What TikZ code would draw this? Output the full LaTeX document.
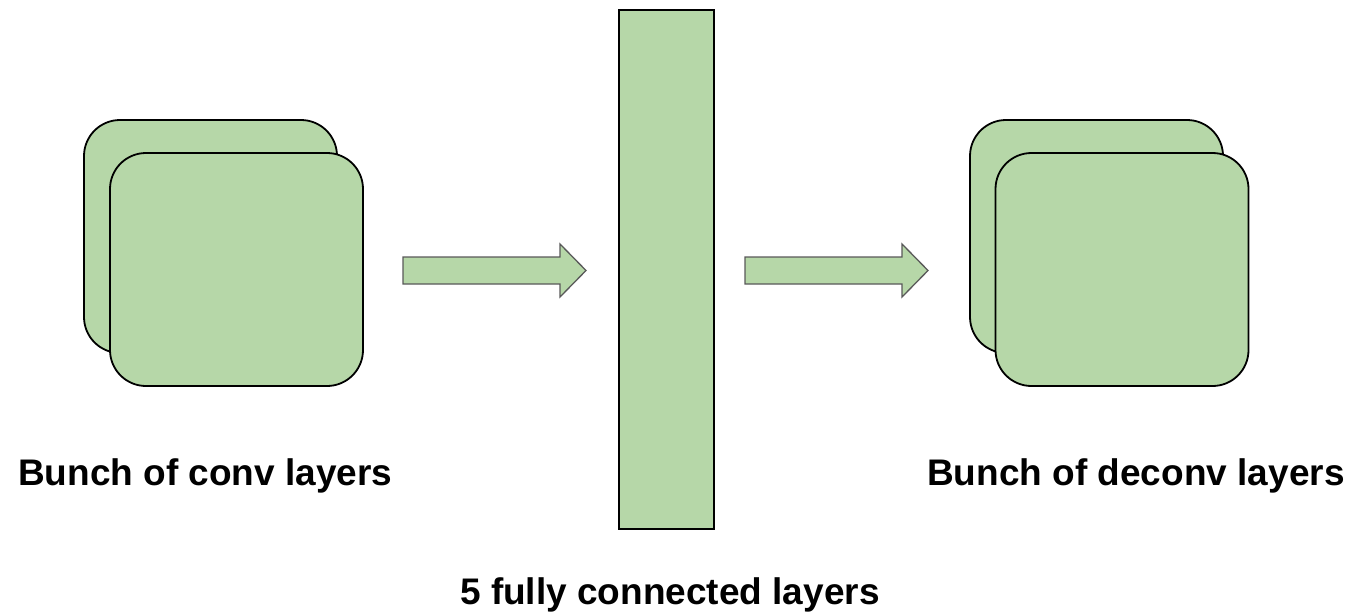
\documentclass[tikz,border=0pt]{standalone}
\usepackage{fontspec}
\setmainfont{Liberation Sans}
\definecolor{layergreen}{HTML}{B6D7A8}
\definecolor{arrowgray}{HTML}{595959}
\begin{document}
\begin{tikzpicture}[x=1pt,y=-1pt,
  layer/.style={draw=black, fill=layergreen, line width=1.8pt, rounded corners=36pt,
    minimum width=253pt, minimum height=233pt, inner sep=0pt, outer sep=0pt},
  fcbar/.style={draw=black, fill=layergreen, line width=1.8pt,
    minimum width=95pt, minimum height=519pt, inner sep=0pt, outer sep=0pt},
  blockarrow/.style={draw=arrowgray, fill=layergreen, line width=1.3pt, line join=miter},
  caption/.style={font=\fontsize{37}{44}\selectfont\bfseries, inner sep=0pt, anchor=base west}]
  \useasboundingbox (0,0) rectangle (1348,613);

  % encoder stack
  \node[layer] (convback)  at (210.5,236.5) {};
  \node[layer] (convfront) at (236.5,269.5) {};

  % fully connected bar
  \node[fcbar] (fc) at (666.5,269.5) {};

  % decoder stack
  \node[layer] (deconvback)  at (1096.5,236.5) {};
  \node[layer] (deconvfront) at (1122,269.5) {};

  % block arrows between stages
  \draw[blockarrow] (403,257) -- (560,257) -- (560,244) -- (586,270.5) -- (560,297)
    -- (560,284) -- (403,284) -- cycle;
  \draw[blockarrow] (745,257) -- (902,257) -- (902,244) -- (928,270.5) -- (902,297)
    -- (902,284) -- (745,284) -- cycle;

  % captions
  \node[caption] (convlabel)   at (18,485)  {Bunch of conv layers};
  \node[caption] (deconvlabel) at (927,485) {Bunch of deconv layers};
  \node[caption] (fclabel)     at (460,604) {5 fully connected layers};
\end{tikzpicture}
\end{document}
